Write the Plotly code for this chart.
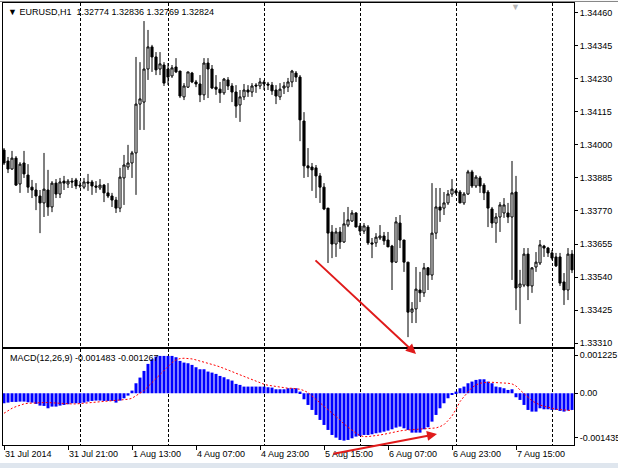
import plotly.graph_objects as go

# ---------------- data (EURUSD H1) ----------------
opens = [
    1.33982, 1.33944, 1.33916, 1.33954, 1.33864, 1.33937, 1.33895, 1.33853, 1.33843, 1.33822,
    1.33798, 1.33843, 1.33784, 1.33867, 1.33829, 1.33874, 1.33864, 1.33874, 1.33878, 1.33860,
    1.33853, 1.33871, 1.33871, 1.33857, 1.33850, 1.33860, 1.33833, 1.33822, 1.33808, 1.33780,
    1.33885, 1.33923, 1.33937, 1.33972, 1.34142, 1.34149, 1.34264, 1.34341, 1.34306, 1.34264,
    1.34278, 1.34264, 1.34240, 1.34271, 1.34257, 1.34167, 1.34201, 1.34250, 1.34219, 1.34212,
    1.34174, 1.34285, 1.34264, 1.34201, 1.34194, 1.34181, 1.34226, 1.34205, 1.34184, 1.34139,
    1.34167, 1.34191, 1.34184, 1.34208, 1.34205, 1.34219, 1.34212, 1.34208, 1.34191, 1.34167,
    1.34198, 1.34201, 1.34219, 1.34250, 1.34236, 1.34083, 1.33927, 1.33923, 1.33920, 1.33892,
    1.33853, 1.33780, 1.33697, 1.33655, 1.33697, 1.33662, 1.33721, 1.33735, 1.33763, 1.33718,
    1.33700, 1.33714, 1.33659, 1.33659, 1.33676, 1.33683, 1.33669, 1.33648, 1.33592, 1.33728,
    1.33669, 1.33592, 1.33418, 1.33429, 1.33495, 1.33485, 1.33572, 1.33547, 1.33693, 1.33784,
    1.33780, 1.33798, 1.33829, 1.33840, 1.33836, 1.33798, 1.33829, 1.33906, 1.33857, 1.33885,
    1.33860, 1.33836, 1.33777, 1.33728, 1.33749, 1.33763, 1.33763, 1.33749, 1.33836, 1.33505,
    1.33512, 1.33620, 1.33509, 1.33575, 1.33589, 1.33648, 1.33641, 1.33624, 1.33610, 1.33610,
    1.33523, 1.33495, 1.33620,
]
highs = [
    1.33989, 1.33958, 1.33979, 1.33961, 1.33940, 1.33979, 1.33933, 1.33878, 1.33867, 1.33843,
    1.33972, 1.33913, 1.33874, 1.33881, 1.33885, 1.33892, 1.33881, 1.33885, 1.33885, 1.33874,
    1.33885, 1.33899, 1.33878, 1.33874, 1.33881, 1.33864, 1.33867, 1.33833, 1.33819, 1.33920,
    1.33965, 1.34000, 1.33979, 1.34306, 1.34288, 1.34431, 1.34400, 1.34348, 1.34323, 1.34323,
    1.34288, 1.34285, 1.34278, 1.34302, 1.34257, 1.34215, 1.34254, 1.34254, 1.34226, 1.34243,
    1.34302, 1.34302, 1.34278, 1.34243, 1.34219, 1.34233, 1.34236, 1.34215, 1.34208, 1.34191,
    1.34212, 1.34208, 1.34215, 1.34215, 1.34233, 1.34226, 1.34219, 1.34219, 1.34208, 1.34215,
    1.34219, 1.34233, 1.34261, 1.34257, 1.34243, 1.34114, 1.33989, 1.33937, 1.33930, 1.33902,
    1.33867, 1.33780, 1.33721, 1.33711, 1.33714, 1.33766, 1.33784, 1.33773, 1.33766, 1.33728,
    1.33728, 1.33721, 1.33676, 1.33693, 1.33721, 1.33697, 1.33697, 1.33652, 1.33749, 1.33756,
    1.33669, 1.33592, 1.33453, 1.33575, 1.33558, 1.33589, 1.33575, 1.33867, 1.33850, 1.33850,
    1.33836, 1.33843, 1.33881, 1.33846, 1.33843, 1.33836, 1.33913, 1.33913, 1.33895, 1.33892,
    1.33867, 1.33843, 1.33784, 1.33763, 1.33801, 1.33815, 1.33798, 1.33944, 1.33892, 1.33565,
    1.33641, 1.33641, 1.33575, 1.33627, 1.33669, 1.33652, 1.33645, 1.33634, 1.33624, 1.33624,
    1.33554, 1.33641, 1.33634,
]
lows = [
    1.33930, 1.33902, 1.33913, 1.33857, 1.33833, 1.33885, 1.33833, 1.33815, 1.33773, 1.33693,
    1.33749, 1.33753, 1.33766, 1.33815, 1.33815, 1.33843, 1.33850, 1.33850, 1.33846, 1.33850,
    1.33846, 1.33840, 1.33826, 1.33833, 1.33843, 1.33801, 1.33815, 1.33784, 1.33763, 1.33766,
    1.33791, 1.33913, 1.33885, 1.33826, 1.34052, 1.34052, 1.34226, 1.34254, 1.34243, 1.34243,
    1.34205, 1.34208, 1.34233, 1.34250, 1.34163, 1.34156, 1.34198, 1.34215, 1.34201, 1.34149,
    1.34156, 1.34163, 1.34194, 1.34174, 1.34146, 1.34174, 1.34191, 1.34149, 1.34094, 1.34080,
    1.34156, 1.34167, 1.34167, 1.34181, 1.34194, 1.34191, 1.34191, 1.34174, 1.34142, 1.34156,
    1.34177, 1.34184, 1.34201, 1.34219, 1.34013, 1.33885, 1.33888, 1.33840, 1.33815, 1.33798,
    1.33773, 1.33589, 1.33606, 1.33610, 1.33638, 1.33659, 1.33714, 1.33732, 1.33714, 1.33686,
    1.33690, 1.33652, 1.33606, 1.33645, 1.33669, 1.33652, 1.33645, 1.33495, 1.33589, 1.33641,
    1.33558, 1.33331, 1.33380, 1.33380, 1.33453, 1.33471, 1.33495, 1.33530, 1.33672, 1.33732,
    1.33756, 1.33791, 1.33819, 1.33826, 1.33798, 1.33791, 1.33826, 1.33850, 1.33850, 1.33833,
    1.33808, 1.33714, 1.33711, 1.33659, 1.33697, 1.33746, 1.33728, 1.33530, 1.33425, 1.33377,
    1.33505, 1.33460, 1.33485, 1.33558, 1.33582, 1.33610, 1.33610, 1.33599, 1.33575, 1.33509,
    1.33443, 1.33460, 1.33554,
]
closes = [
    1.33937, 1.33916, 1.33954, 1.33860, 1.33933, 1.33899, 1.33853, 1.33843, 1.33822, 1.33798,
    1.33846, 1.33784, 1.33867, 1.33829, 1.33871, 1.33867, 1.33874, 1.33871, 1.33857, 1.33857,
    1.33871, 1.33867, 1.33857, 1.33853, 1.33860, 1.33833, 1.33822, 1.33808, 1.33780, 1.33888,
    1.33930, 1.33937, 1.33972, 1.34142, 1.34160, 1.34264, 1.34341, 1.34306, 1.34261, 1.34282,
    1.34215, 1.34236, 1.34268, 1.34254, 1.34170, 1.34205, 1.34254, 1.34219, 1.34212, 1.34174,
    1.34285, 1.34264, 1.34198, 1.34194, 1.34181, 1.34229, 1.34205, 1.34184, 1.34135, 1.34167,
    1.34191, 1.34184, 1.34205, 1.34205, 1.34219, 1.34212, 1.34208, 1.34188, 1.34170, 1.34194,
    1.34205, 1.34219, 1.34257, 1.34236, 1.34087, 1.33927, 1.33920, 1.33913, 1.33892, 1.33853,
    1.33777, 1.33693, 1.33655, 1.33697, 1.33662, 1.33725, 1.33739, 1.33763, 1.33714, 1.33700,
    1.33718, 1.33659, 1.33655, 1.33679, 1.33683, 1.33666, 1.33645, 1.33592, 1.33732, 1.33669,
    1.33592, 1.33418, 1.33429, 1.33498, 1.33485, 1.33572, 1.33547, 1.33693, 1.33784, 1.33773,
    1.33798, 1.33829, 1.33846, 1.33833, 1.33798, 1.33829, 1.33906, 1.33857, 1.33888, 1.33857,
    1.33833, 1.33780, 1.33728, 1.33749, 1.33791, 1.33791, 1.33749, 1.33833, 1.33502, 1.33516,
    1.33620, 1.33509, 1.33572, 1.33592, 1.33652, 1.33641, 1.33624, 1.33606, 1.33579, 1.33519,
    1.33495, 1.33620, 1.33565,
]

macd_main = [
    -0.000321, -0.000300, -0.000278, -0.000278, -0.000268, -0.000268, -0.000289, -0.000300, -0.000342, -0.000396,
    -0.000407, -0.000482, -0.000428, -0.000428, -0.000396, -0.000375, -0.000353, -0.000321, -0.000321, -0.000321,
    -0.000300, -0.000268, -0.000246, -0.000235, -0.000235, -0.000246, -0.000246, -0.000246, -0.000300, -0.000235,
    -0.000161, -0.000075, 0.000086, 0.000321, 0.000503, 0.000717, 0.000942, 0.001091, 0.001177, 0.001198,
    0.001198, 0.001198, 0.001198, 0.001156, 0.001038, 0.000984, 0.000963, 0.000910, 0.000835, 0.000770,
    0.000770, 0.000696, 0.000663, 0.000621, 0.000556, 0.000514, 0.000449, 0.000407, 0.000300, 0.000268,
    0.000214, 0.000214, 0.000214, 0.000214, 0.000214, 0.000214, 0.000193, 0.000182, 0.000128, 0.000128,
    0.000128, 0.000161, 0.000161, 0.000161, 0.000054, -0.000193, -0.000375, -0.000535, -0.000696, -0.000856,
    -0.001017, -0.001177, -0.001338, -0.001423, -0.001498, -0.001519, -0.001498, -0.001445, -0.001391, -0.001370,
    -0.001338, -0.001338, -0.001316, -0.001284, -0.001263, -0.001231, -0.001198, -0.001156, -0.001102, -0.001070,
    -0.001124, -0.001177, -0.001263, -0.001263, -0.001263, -0.001156, -0.001091, -0.000910, -0.000696, -0.000482,
    -0.000321, -0.000161, -0.000032, 0.000054, 0.000161, 0.000214, 0.000321, 0.000375, 0.000428, 0.000449,
    0.000449, 0.000375, 0.000321, 0.000214, 0.000193, 0.000161, 0.000107, 0.000128, -0.000128, -0.000214,
    -0.000375, -0.000535, -0.000589, -0.000589, -0.000482, -0.000514, -0.000514, -0.000535, -0.000535, -0.000567,
    -0.000589, -0.000556, -0.000535,
]
macd_signal = [
    -0.000642, -0.000556, -0.000482, -0.000428, -0.000375, -0.000342, -0.000321, -0.000310, -0.000300, -0.000300,
    -0.000300, -0.000300, -0.000310, -0.000321, -0.000332, -0.000332, -0.000342, -0.000342, -0.000342, -0.000332,
    -0.000321, -0.000310, -0.000300, -0.000278, -0.000268, -0.000257, -0.000246, -0.000246, -0.000235, -0.000225,
    -0.000214, -0.000193, -0.000161, -0.000086, 0.000000, 0.000086, 0.000214, 0.000342, 0.000482, 0.000589,
    0.000749, 0.000856, 0.000984, 0.001070, 0.001113, 0.001124, 0.001124, 0.001102, 0.001070, 0.001038,
    0.001006, 0.000963, 0.000920, 0.000888, 0.000845, 0.000803, 0.000749, 0.000696, 0.000642, 0.000589,
    0.000535, 0.000482, 0.000428, 0.000375, 0.000321, 0.000289, 0.000257, 0.000235, 0.000214, 0.000182,
    0.000161, 0.000161, 0.000161, 0.000150, 0.000128, 0.000086, 0.000021, -0.000086, -0.000193, -0.000321,
    -0.000428, -0.000535, -0.000642, -0.000749, -0.000856, -0.000984, -0.001091, -0.001198, -0.001284, -0.001359,
    -0.001391, -0.001391, -0.001380, -0.001359, -0.001338, -0.001316, -0.001284, -0.001263, -0.001241, -0.001209,
    -0.001188, -0.001177, -0.001156, -0.001156, -0.001156, -0.001145, -0.001134, -0.001124, -0.001113, -0.001070,
    -0.001006, -0.000877, -0.000728, -0.000514, -0.000268, -0.000107, 0.000054, 0.000182, 0.000268, 0.000321,
    0.000342, 0.000353, 0.000353, 0.000342, 0.000342, 0.000332, 0.000321, 0.000300, 0.000235, 0.000107,
    0.000000, -0.000128, -0.000246, -0.000321, -0.000375, -0.000417, -0.000449, -0.000492, -0.000514, -0.000524,
    -0.000535, -0.000546, -0.000556,
]

time_tick_bars = [0, 16, 32, 48, 64, 80, 96, 112, 128]
time_tick_labels = ["31 Jul 2014", "31 Jul 21:00", "1 Aug 13:00", "4 Aug 07:00", "4 Aug 23:00",
                    "5 Aug 15:00", "6 Aug 07:00", "6 Aug 23:00", "7 Aug 15:00"]
grid_bars = [19, 41, 65, 89, 113, 137]
price_ticks = [1.34460, 1.34345, 1.34230, 1.34115, 1.34000, 1.33885, 1.33770,
               1.33655, 1.33540, 1.33425, 1.33310]
macd_ticks = [0.001225, 0.0, -0.001435]
macd_tick_labels = ["0.001225", "0.00", "-0.001435"]

title_text = "EURUSD,H1  1.32774 1.32836 1.32769 1.32824"
macd_text = "MACD(12,26,9) -0.001483 -0.001267"

# ---------------- figure ----------------
bars = list(range(len(opens)))
FONT = "Liberation Sans, Arial, sans-serif"

fig = go.Figure()
fig.add_trace(go.Candlestick(
    x=bars, open=opens, high=highs, low=lows, close=closes,
    increasing=dict(line=dict(color="black", width=1), fillcolor="white"),
    decreasing=dict(line=dict(color="black", width=1), fillcolor="black"),
    whiskerwidth=0, xaxis="x", yaxis="y", showlegend=False, hoverinfo="skip",
))
fig.add_trace(go.Bar(
    x=bars, y=macd_main, marker=dict(color="#0000ff", line=dict(width=0)),
    xaxis="x2", yaxis="y2", showlegend=False, hoverinfo="skip",
))
fig.add_trace(go.Scatter(
    x=bars, y=macd_signal, mode="lines",
    line=dict(color="#ff0000", width=1, dash="2px,2px"),
    xaxis="x2", yaxis="y2", showlegend=False, hoverinfo="skip",
))

xr = [-0.25, 142.5]
minor_grid = dict(tickvals=grid_bars, showgrid=True, gridcolor="black", gridwidth=1,
                  griddash="3px,2px", ticks="")
common_line = dict(showline=True, mirror=True, linecolor="black", linewidth=1,
                   zeroline=False, automargin=False)

fig.update_layout(
    width=618, height=468,
    margin=dict(l=3, r=44, t=3, b=23),
    paper_bgcolor="white", plot_bgcolor="white",
    showlegend=False, bargap=0.25, boxgap=0.25,
    font=dict(family=FONT, size=9, color="black"),
    xaxis=dict(domain=[0, 1], range=xr, anchor="y", showticklabels=False, ticks="",
               showgrid=False, rangeslider=dict(visible=False), minor=minor_grid, **common_line),
    yaxis=dict(domain=[0.2217, 1], range=[1.332966, 1.344938], anchor="x", side="right",
               tickvals=price_ticks, tickformat=".5f", ticks="outside", ticklen=3,
               tickcolor="black", showgrid=False,
               tickfont=dict(family=FONT, size=9, color="black"), **common_line),
    xaxis2=dict(domain=[0, 1], range=xr, anchor="y2", tickvals=time_tick_bars,
                ticktext=time_tick_labels, ticklabelposition="outside right",
                ticks="outside", ticklen=4, tickcolor="black", showgrid=False,
                tickfont=dict(family=FONT, size=9, color="black"),
                minor=minor_grid, **common_line),
    yaxis2=dict(domain=[0, 0.2172], range=[-0.00166, 0.00142], anchor="x2", side="right",
                tickvals=macd_ticks, ticktext=macd_tick_labels, ticks="outside", ticklen=3,
                tickcolor="black", showgrid=False,
                tickfont=dict(family=FONT, size=9, color="black"), **common_line),
)

annotations = [
    dict(text="▼ " + title_text, xref="paper", yref="paper", x=0.006, y=1,
         xanchor="left", yanchor="top", yshift=-2, showarrow=False,
         font=dict(family=FONT, size=9, color="black")),
    dict(text=macd_text, xref="paper", yref="paper", x=0.008, y=0.2172,
         xanchor="left", yanchor="top", yshift=-2, showarrow=False,
         font=dict(family=FONT, size=9, color="black")),
    dict(text="▼", xref="x", yref="paper", x=127.8, y=1, xanchor="center", yanchor="top",
         yshift=3, showarrow=False, font=dict(size=9, color="#b4b4b4")),
    # red arrows
    dict(x=103.0, y=0.00126, xref="x2", yref="y2", ax=-102, ay=-95, axref="pixel", ayref="pixel",
         showarrow=True, arrowhead=2, arrowsize=1, arrowwidth=2, arrowcolor="#e01b1b",
         text="", standoff=0),
    dict(x=108.25, y=-0.001306, xref="x2", yref="y2", ax=-105, ay=20, axref="pixel", ayref="pixel",
         showarrow=True, arrowhead=2, arrowsize=1, arrowwidth=2, arrowcolor="#e01b1b",
         text="", standoff=0),
]
fig.update_layout(annotations=annotations)

shapes = [
    # window bottom strip
    dict(type="rect", xref="paper", yref="paper", x0=-0.01, x1=1.08, y0=-0.06, y1=-0.0407,
         fillcolor="#dfe6ee", line=dict(width=0), layer="below"),
    # thin top border
    dict(type="line", xref="paper", yref="paper", x0=-0.01, x1=1.08, y0=1.0035, y1=1.0035,
         line=dict(color="#808080", width=1)),
]
fig.update_layout(shapes=shapes)

fig.write_html("out.html", config={"displayModeBar": False},
               post_script="document.body.style.margin='0';document.body.style.overflow='hidden';")
